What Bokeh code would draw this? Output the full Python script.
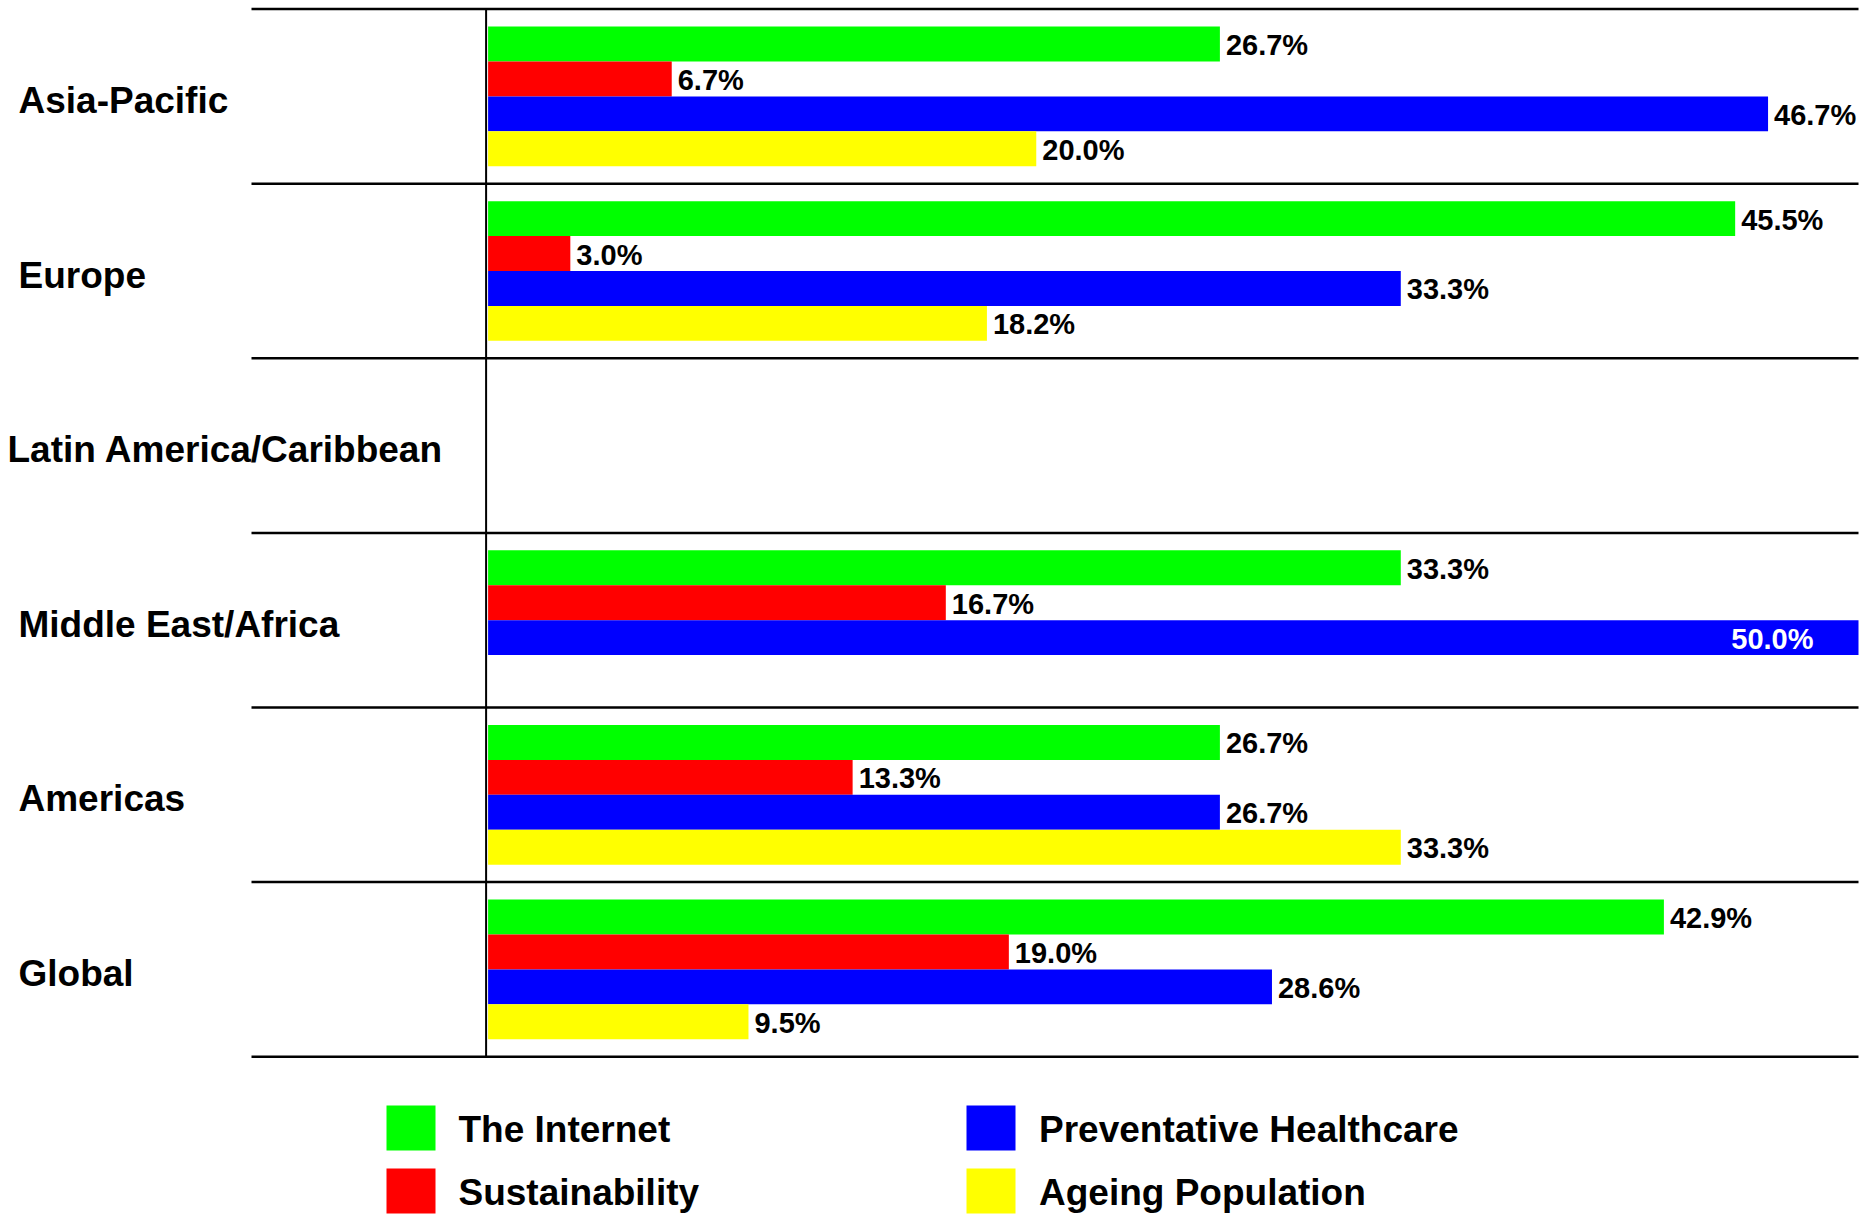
from bokeh.plotting import figure
from bokeh.models import ColumnDataSource, Range1d
from bokeh.embed import file_html
from bokeh.resources import INLINE
from bokeh.core.properties import value

# ---------------- data ----------------
regions = ["Asia-Pacific", "Europe", "Latin America/Caribbean",
           "Middle East/Africa", "Americas", "Global"]
series = ["The Internet", "Sustainability", "Preventative Healthcare", "Ageing Population"]
series_colors = ["#00ff00", "#ff0000", "#0000ff", "#ffff00"]
internet = [26.7, 45.5, None, 33.3, 26.7, 42.9]
sustainability = [6.7, 3.0, None, 16.7, 13.3, 19.0]
healthcare = [46.7, 33.3, None, 50.0, 26.7, 28.6]
ageing = [20.0, 18.2, None, None, 33.3, 9.5]
series_values = [internet, sustainability, healthcare, ageing]

# ---------------- layout ----------------
W, H = 1874, 1214
PAGE = 0
X0_PAGE, XMAX_PAGE, XMAX_VAL = 487.6, 1858.0, 50.0
SX = (XMAX_PAGE - X0_PAGE) / XMAX_VAL
x_start = -(X0_PAGE - PAGE) / SX
x_end = x_start + W / SX

GU = 174.6             # px per region band
TOP_FIG = 8.6          # px of top rule inside figure
y_end = TOP_FIG / GU
y_start = y_end - H / GU


def xd(page_x):
    return x_start + (page_x - PAGE) / SX


def yd(page_y):
    return y_end - (page_y - PAGE) / GU


FONT = value("Liberation Sans")

p = figure(width=W, height=H, output_backend="svg", toolbar_location=None,
           x_range=Range1d(x_start, x_end), y_range=Range1d(y_start, y_end),
           x_axis_location=None, y_axis_location=None,
           min_border=0, min_border_left=0, min_border_right=0,
           min_border_top=0, min_border_bottom=0)
p.grid.visible = False
p.outline_line_color = None
p.background_fill_color = "white"
p.border_fill_color = "white"

# ---------------- bars ----------------
bar = dict(y=[], right=[], color=[])
lab_out = dict(x=[], y=[], text=[])
lab_in = dict(x=[], y=[], text=[])
for i, reg in enumerate(regions):
    for j, vals in enumerate(series_values):
        v = vals[i]
        if v is None:
            continue
        yc = -(i + 0.2 + 0.2 * j)
        bar["y"].append(yc)
        bar["right"].append(v)
        bar["color"].append(series_colors[j])
        tgt = lab_in if v >= XMAX_VAL - 1 else lab_out
        tgt["x"].append(v)
        tgt["y"].append(yc)
        tgt["text"].append(f"{v:.1f}%")

p.hbar(y="y", left=0, right="right", height=0.2, fill_color="color",
       line_color=None, source=ColumnDataSource(bar))

p.text(x="x", y="y", text="text", source=ColumnDataSource(lab_out),
       text_font=FONT, text_font_style="bold", text_font_size="29px",
       text_color="black", text_align="left", text_baseline="middle",
       x_offset=6, y_offset=1)
p.text(x="x", y="y", text="text", source=ColumnDataSource(lab_in),
       text_font=FONT, text_font_style="bold", text_font_size="29px",
       text_color="white", text_align="right", text_baseline="middle",
       x_offset=-45, y_offset=1)

# ---------------- rules ----------------
n = len(regions)
p.segment(x0=[xd(251)] * (n + 1), x1=[xd(1858)] * (n + 1),
          y0=[-k for k in range(n + 1)], y1=[-k for k in range(n + 1)],
          line_color="black", line_width=2.5)
p.segment(x0=[xd(485.6)], x1=[xd(485.6)], y0=[0], y1=[-n],
          line_color="black", line_width=2)

# ---------------- region labels ----------------
norm = [(r, i) for i, r in enumerate(regions) if len(r) < 20]
long_ = [(r, i) for i, r in enumerate(regions) if len(r) >= 20]
p.text(x=[xd(18)] * len(norm), y=[-(i + 0.5) for _, i in norm],
       text=[r for r, _ in norm], text_font=FONT, text_font_style="bold",
       text_font_size="37px", text_color="black", text_align="left",
       text_baseline="middle", y_offset=4)
p.text(x=[xd(7)] * len(long_), y=[-(i + 0.5) for _, i in long_],
       text=[r for r, _ in long_], text_font=FONT, text_font_style="bold",
       text_font_size="37px", text_color="black", text_align="left",
       text_baseline="middle", y_offset=4)

# ---------------- legend ----------------
col_sw = [410.5, 990.5]
col_tx = [458, 1038.5]
row_y = [1127.5, 1190.5]
lx, ly, lc, tx, ty = [], [], [], [], []
for k, (name, c) in enumerate(zip(series, series_colors)):
    col, row = k // 2, k % 2
    lx.append(xd(col_sw[col]))
    ly.append(yd(row_y[row]))
    lc.append(c)
    tx.append(xd(col_tx[col]))
    ty.append(yd(row_y[row]))
p.rect(x=lx, y=ly, width=49, height=45, width_units="screen",
       height_units="screen", fill_color=lc, line_color=None)
p.text(x=tx, y=ty, text=series, text_font=FONT, text_font_style="bold",
       text_font_size="37px", text_color="black", text_align="left",
       text_baseline="middle", y_offset=1)

open("out.html", "w").write(file_html(p, INLINE))
